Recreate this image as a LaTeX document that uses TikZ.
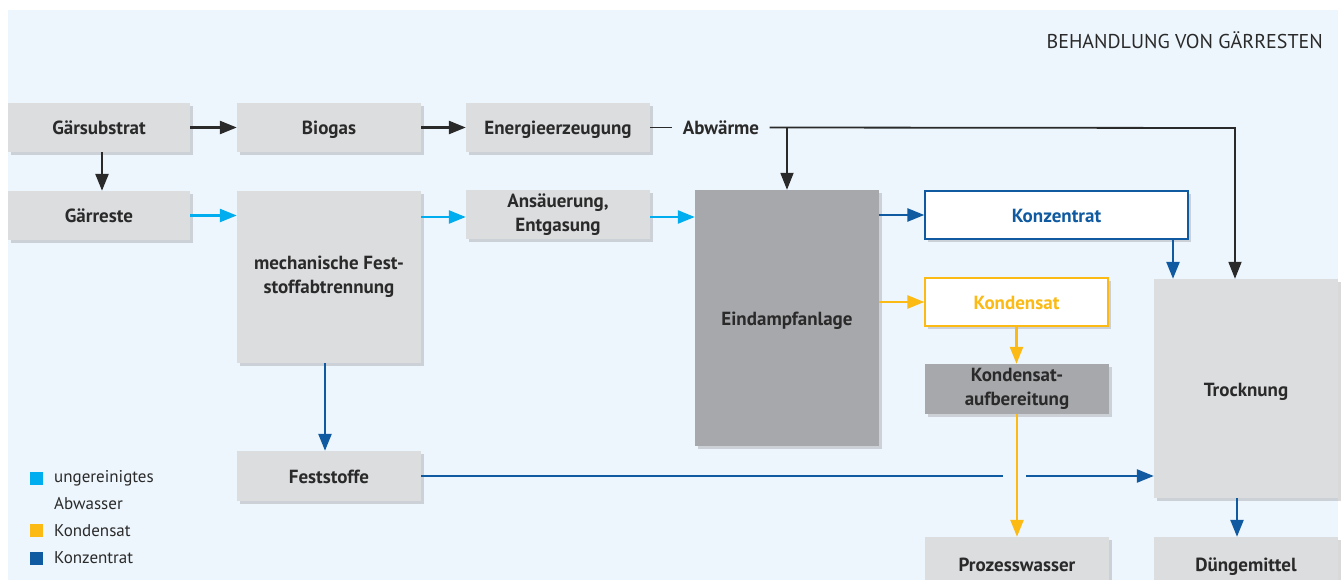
\documentclass[tikz,border=0pt]{standalone}
\usepackage{fontspec}
\setmainfont{PT Sans}
\usetikzlibrary{arrows.meta,shadows}
\definecolor{bg}{HTML}{EEF6FD}
\definecolor{lgray}{HTML}{DCDDDF}
\definecolor{dgray}{HTML}{A7A8AB}
\definecolor{cyanA}{HTML}{00AEEF}
\definecolor{yel}{HTML}{FBBA14}
\definecolor{dblue}{HTML}{0F5AA0}
\definecolor{txt}{HTML}{2A2A2A}
\tikzset{
  box/.style={fill=lgray, minimum width=184, minimum height=49, inner sep=0pt, align=center,
    font=\fontsize{19}{24}\selectfont\bfseries, text=txt, text height=15pt, text depth=0pt,
    drop shadow={shadow xshift=3pt, shadow yshift=-3pt, opacity=0.25, fill=black!60}},
  twoline/.style={text height={}, text depth={}},
  wbox/.style={box, fill=white, line width=1.3pt, drop shadow={opacity=0}},
  arr/.style={line width=2.5pt, -{Triangle[length=17pt,width=13pt]}},
  plain/.style={line width=2.3pt},
  leg/.style={anchor=west, font=\fontsize{17}{20}\selectfont, text=txt, inner sep=0pt},
  sq/.style={minimum size=13pt, inner sep=0pt}
}
\begin{document}
\begin{tikzpicture}[x=1pt,y=-1pt]
\useasboundingbox (0,0) rectangle (1344,580);
\clip (0,0) rectangle (1344,580);
\fill[bg] (8,10) rectangle (1338,590);
\node[anchor=east, font=\fontsize{20}{22}\selectfont, text=txt, inner sep=0pt] (title) at (1323,40) {BEHANDLUNG VON GÄRRESTEN};
% boxes
\node[box, minimum width=182] (gs) at (99,127.5) {Gärsubstrat};
\node[box] (bio) at (329,127.5) {Biogas};
\node[box] (en) at (558,127.5) {Energieerzeugung};
\node[font=\fontsize{19}{22}\selectfont\bfseries, text=txt, inner sep=0pt, text height=15pt, text depth=0pt, minimum width=97] (abw) at (721,127.5) {Abwärme};
\node[box, minimum width=182] (gr) at (99,215.5) {Gärreste};
\node[box, twoline, minimum height=172] (mech) at (329,277) {mechanische Fest-\\stoffabtrennung};
\node[box, twoline] (ans) at (558,215) {Ansäuerung,\\Entgasung};
\node[box, fill=dgray, minimum height=256] (ein) at (787,318) {Eindampfanlage};
\node[wbox, draw=dblue, text=dblue, minimum width=263, minimum height=48] (konz) at (1056.5,215) {Konzentrat};
\node[wbox, draw=yel, text=yel, minimum width=183, minimum height=48] (kond) at (1016.5,302) {Kondensat};
\node[box, twoline, fill=dgray, minimum height=50] (kauf) at (1017,389) {Kondensat-\\aufbereitung};
\node[box, minimum height=219] (tro) at (1246,388.5) {Trocknung};
\node[box, minimum height=50] (fest) at (329,476) {Feststoffe};
\node[box, minimum height=53] (pw) at (1017,563.5) {Prozesswasser};
\node[box, minimum height=53] (dm) at (1246,563.5) {Düngemittel};
% helper coordinates
\coordinate (br) at (787,128);
\coordinate (c1) at (1235,128);
\coordinate (kx) at (1173,0);
\coordinate (dx) at (1237,0);
\coordinate (gA) at (1003,476);
\coordinate (gB) at (1026,476);
% black arrows
\draw[arr, txt] (gs) -- (bio);
\draw[arr, txt] (bio) -- (en);
\draw[arr, txt] ([xshift=3pt]gs.south) -- ([xshift=3pt]gr.north);
\draw[plain, txt, line width=1.8pt] (en.east) -- (abw.west);
\draw[arr, txt, line width=1.8pt] (abw.east) -- (c1) -- (c1 |- tro.north);
\draw[arr, txt, line width=1.8pt] (br) -- (br |- ein.north);
% cyan
\draw[arr, cyanA] (gr.east) -- (gr.east -| mech.west);
\draw[arr, cyanA] ([yshift=-2pt]mech.east |- ans) -- ([yshift=-2pt]ans.west);
\draw[arr, cyanA] ([yshift=-2pt]ans.east) -- ([yshift=-2pt]ans.east -| ein.west);
% dark blue
\draw[arr, dblue] (ein.east |- konz) -- (konz.west);
\draw[arr, dblue] (konz.south -| kx) -- (kx |- tro.north);
\draw[arr, dblue] ([xshift=-4pt]mech.south) -- ([xshift=-4pt]fest.north);
\draw[plain, dblue] (fest.east) -- (gA);
\draw[arr, dblue] (gB) -- (gB -| tro.west);
\draw[arr, dblue] (tro.south -| dx) -- (dx |- dm.north);
% yellow
\draw[arr, yel] (ein.east |- kond) -- (kond.west);
\draw[arr, yel] (kond.south) -- (kond.south |- kauf.north);
\draw[arr, yel] (kauf.south) -- (kauf.south |- pw.north);
% legend
\node[sq, fill=cyanA] (s1) at (36.5,478) {};
\node[leg] (l1) at (54,478) {ungereinigtes};
\node[leg] (l1b) at (54,504) {Abwasser};
\node[sq, fill=yel] (s2) at (36.5,530) {};
\node[leg] (l2) at (54,531) {Kondensat};
\node[sq, fill=dblue] (s3) at (36.5,558) {};
\node[leg] (l3) at (54,558) {Konzentrat};
\end{tikzpicture}
\end{document}
